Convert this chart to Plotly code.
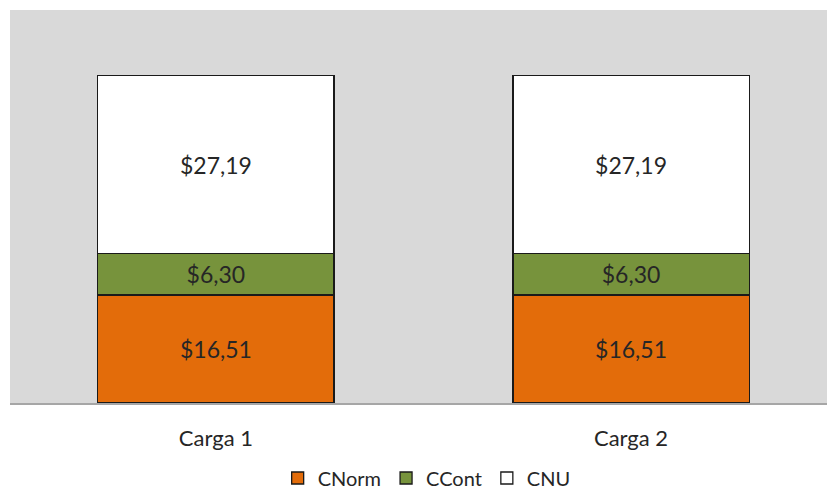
import plotly.graph_objects as go

categories = ["Carga 1", "Carga 2"]
cnorm = [16.51, 16.51]
ccont = [6.30, 6.30]
cnu = [27.19, 27.19]

def fmt(v):
    return "$" + f"{v:.2f}".replace(".", ",")

series = [
    ("CNorm", cnorm, "#E36C0A"),
    ("CCont", ccont, "#77933C"),
    ("CNU", cnu, "#FFFFFF"),
]

fig = go.Figure()
for name, vals, col in series:
    fig.add_trace(go.Bar(
        x=[0, 1], y=vals, name=name,
        marker=dict(color=col, line=dict(color="#1a1a1a", width=1.3)),
        text=[fmt(v) for v in vals], textposition="inside",
        insidetextanchor="middle",
        textfont=dict(family="Lato, Open Sans, sans-serif", size=23, color="#262626"),
        width=0.569,
    ))

fig.update_layout(
    barmode="stack",
    width=827, height=490,
    margin=dict(l=10, r=0, t=10, b=87),
    paper_bgcolor="white",
    plot_bgcolor="#D9D9D9",
    font=dict(family="Lato, Open Sans, sans-serif", size=22, color="#262626"),
    uniformtext=dict(mode=False),
    showlegend=True,
    legend=dict(orientation="h", xref="paper", x=0.51, xanchor="center",
                yref="container", y=1 - 478 / 490, yanchor="middle",
                font=dict(size=20), traceorder="normal", itemwidth=30),
    xaxis=dict(range=[-0.496, 1.472], tickvals=[0, 1], ticktext=categories,
               showgrid=False, zeroline=False, showline=True, linecolor="#A6A6A6", linewidth=1.5,
               ticks="", ticklabelstandoff=15, tickfont=dict(size=22)),
    yaxis=dict(range=[0, 60], showticklabels=False, showgrid=False, zeroline=False),
)

fig.write_html("out.html", config={"displayModeBar": False},
               post_script="document.body.style.margin='0';")
